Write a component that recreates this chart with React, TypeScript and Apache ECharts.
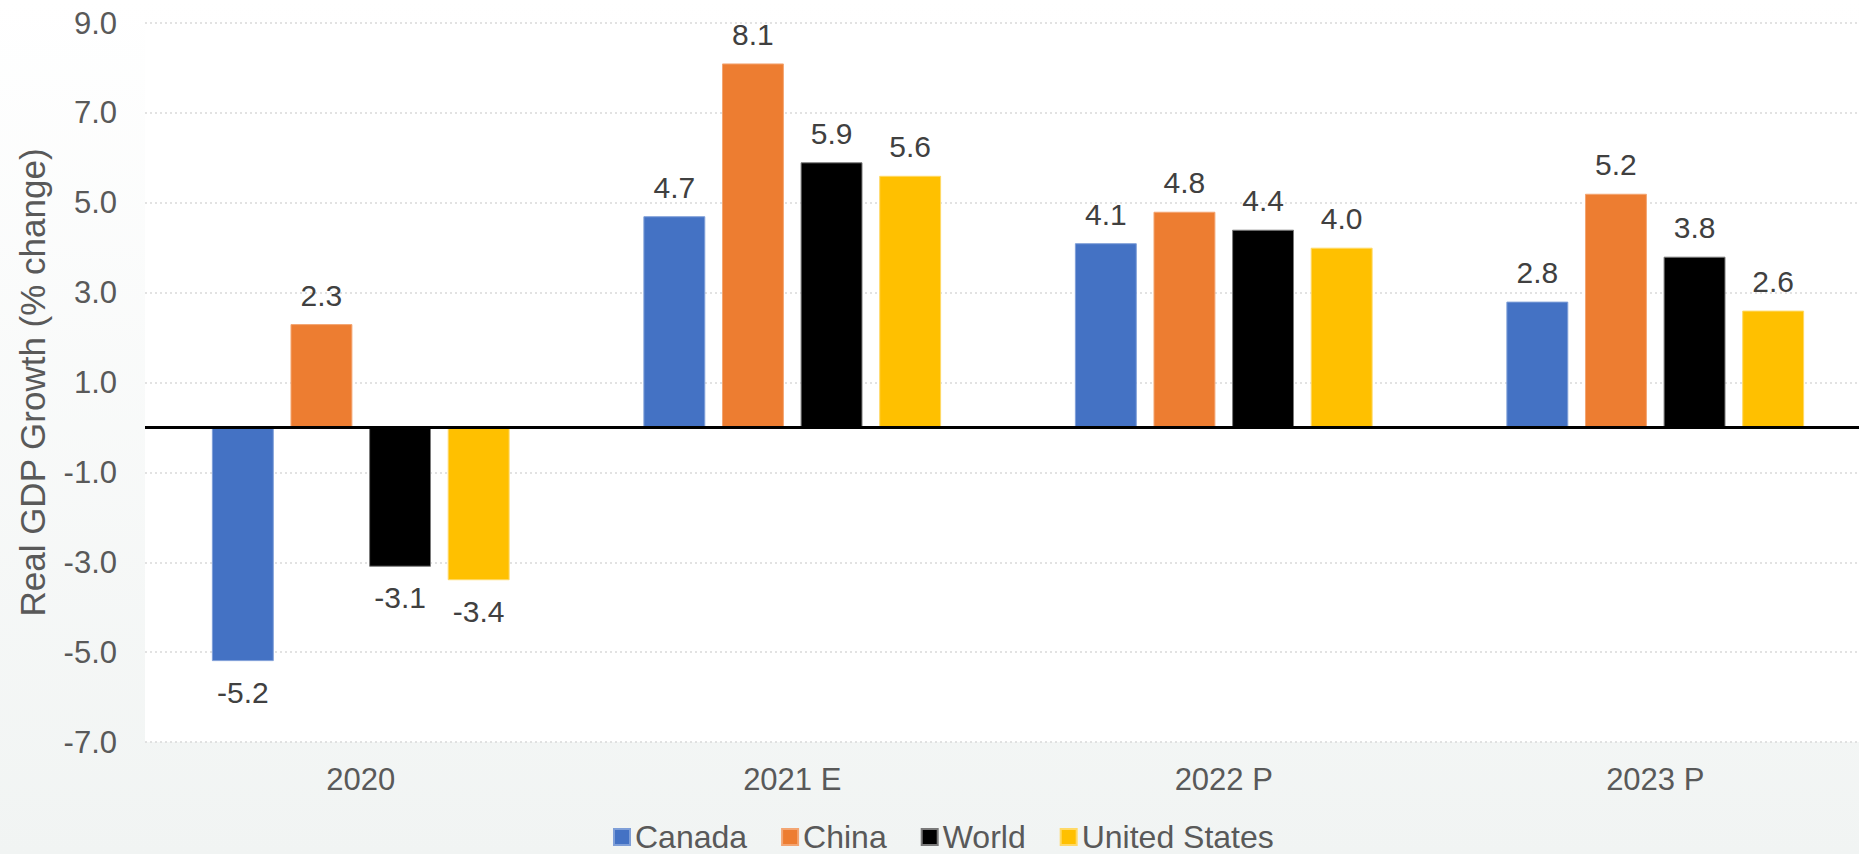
import React, { useEffect, useRef } from "react";
import * as echarts from "echarts";

const categories = ["2020", "2021 E", "2022 P", "2023 P"];
const seriesNames = ["Canada", "China", "World", "United States"];
const canada = [-5.2, 4.7, 4.1, 2.8];
const china = [2.3, 8.1, 4.8, 5.2];
const world = [-3.1, 5.9, 4.4, 3.8];
const unitedStates = [-3.4, 5.6, 4.0, 2.6];
const seriesColors = ["#4472C4", "#ED7D31", "#000000", "#FFC000"];
const borderColors = ["#7f9fd8", "#f3a572", "#7a7a7a", "#ffd966"];
const yMin = -7;
const yMax = 9;
const yStep = 2;

const FONT = "Arial, 'Liberation Sans', sans-serif";

export default function App() {
  const ref = useRef<HTMLDivElement>(null);
  useEffect(() => {
    if (!ref.current) return;
    const chart = echarts.init(ref.current, null, { renderer: "svg" });
    const allData = [canada, china, world, unitedStates];
    const series: any[] = allData.map((vals, i) => ({
      name: seriesNames[i],
      type: "bar",
      barGap: "27%",
      barCategoryGap: "31%",
      itemStyle: { color: seriesColors[i], borderColor: borderColors[i], borderWidth: 1 },
      label: {
        show: true,
        position: "top",
        distance: 14,
        fontSize: 30,
        fontFamily: FONT,
        color: "#404040",
        formatter: (p: any) => Number(p.value).toFixed(1),
      },
      data: vals.map((v) =>
        v < 0 ? { value: v, label: { position: "bottom", distance: 16 } } : { value: v }
      ),
    }));
    series[0].markLine = {
      silent: true,
      symbol: "none",
      label: { show: false },
      lineStyle: { color: "#000000", width: 3, type: "solid" },
      data: [{ yAxis: 0 }],
    };
    chart.setOption({
      animation: false,
      backgroundColor: {
        type: "linear",
        x: 0,
        y: 0,
        x2: 0,
        y2: 1,
        colorStops: [
          { offset: 0, color: "#ffffff" },
          { offset: 1, color: "#f1f4f3" },
        ],
      },
      grid: {
        left: 145,
        width: 1726,
        top: 23,
        height: 719,
        show: true,
        backgroundColor: "#ffffff",
        borderWidth: 0,
      },
      legend: {
        data: seriesNames,
        top: 821,
        left: 613,
        padding: 0,
        itemWidth: 16,
        itemHeight: 16,
        itemGap: 34,
        icon: "rect",
        textStyle: { fontSize: 32, fontFamily: FONT, color: "#595959" },
      },
      xAxis: {
        type: "category",
        data: categories,
        axisLine: { show: false },
        axisTick: { show: false },
        axisLabel: { fontSize: 31, fontFamily: FONT, color: "#595959", margin: 22 },
        splitLine: { show: false },
      },
      yAxis: {
        type: "value",
        min: yMin,
        max: yMax,
        interval: yStep,
        name: "Real GDP Growth (% change)",
        nameLocation: "middle",
        nameGap: 95,
        nameTextStyle: { fontSize: 35, fontFamily: FONT, color: "#595959" },
        axisLine: { show: false },
        axisTick: { show: false },
        axisLabel: {
          fontSize: 31,
          fontFamily: FONT,
          color: "#595959",
          margin: 28,
          formatter: (v: number) => v.toFixed(1),
        },
        splitLine: { show: true, lineStyle: { color: "#d9d9d9", width: 1.5, type: [2, 3] } },
      },
      series,
    });
    return () => chart.dispose();
  }, []);
  return (
    <div style={{ position: "fixed", left: 0, top: 0, width: 1859, height: 854, overflow: "hidden" }}>
      <div ref={ref} style={{ width: 1880, height: 854 }} />
    </div>
  );
}
